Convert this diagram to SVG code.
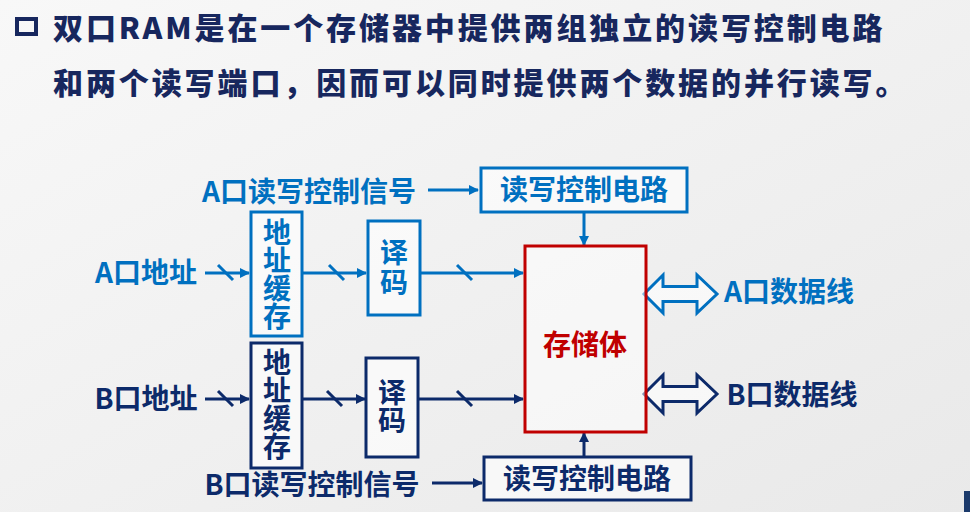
<svg xmlns="http://www.w3.org/2000/svg" width="970" height="512" viewBox="0 0 970 512">
<defs>
<linearGradient id="bg" x1="0" y1="0" x2="1" y2="1">
<stop offset="0" stop-color="#f8f8f8"/>
<stop offset="1" stop-color="#e9e9e9"/>
</linearGradient>
<marker id="ha" markerWidth="10" markerHeight="10" refX="9" refY="5" orient="auto" markerUnits="userSpaceOnUse">
<path d="M0,0 L10,5 L0,10 Z" fill="#0070C0"/>
</marker>
<marker id="hb" markerWidth="10" markerHeight="10" refX="9" refY="5" orient="auto" markerUnits="userSpaceOnUse">
<path d="M0,0 L10,5 L0,10 Z" fill="#0C2A6A"/>
</marker>
<style>
text{font-family:"Noto Sans CJK SC","Liberation Sans",sans-serif;font-weight:bold}
.t{font-size:30px;fill:#17275E;letter-spacing:2.9px;font-weight:900}
.l{font-size:28px;text-anchor:middle}
.v{writing-mode:vertical-rl}
.a{fill:#0070C0}
.b{fill:#0C2A6A}
.r{fill:#C00000}
.ba{fill:#ffffff;fill-opacity:0.6;stroke:#0070C0;stroke-width:3}
.bb{fill:#ffffff;fill-opacity:0.6;stroke:#0C2A6A;stroke-width:3}
.la{stroke:#0070C0;stroke-width:3;fill:none}
.lb{stroke:#0C2A6A;stroke-width:3;fill:none}
</style>
</defs>
<rect width="970" height="512" fill="url(#bg)"/>
<rect x="964" y="491" width="6" height="21" fill="#1B3A6B"/>

<g id="title">
<rect x="17" y="19" width="19" height="15" fill="none" stroke="#17275E" stroke-width="4"/>
<text class="t" x="53" y="39">双口RAM是在一个存储器中提供两组独立的读写控制电路</text>
<text class="t" x="53" y="94">和两个读写端口，因而可以同时提供两个数据的并行读写。</text>
</g>

<g id="connectors">
<line class="la" x1="428" y1="190" x2="478" y2="190" marker-end="url(#ha)"/>
<line class="la" x1="584" y1="212" x2="584" y2="245" marker-end="url(#ha)"/>
<line class="la" x1="205" y1="273" x2="249" y2="273" marker-end="url(#ha)"/>
<line class="la" x1="218" y1="265" x2="233" y2="280"/>
<line class="la" x1="302" y1="273" x2="366" y2="273" marker-end="url(#ha)"/>
<line class="la" x1="329" y1="265" x2="344" y2="280"/>
<line class="la" x1="420" y1="273" x2="523" y2="273" marker-end="url(#ha)"/>
<line class="la" x1="457" y1="265" x2="472" y2="280"/>
<path class="ba" d="M644,294 L663,275 L663,286.5 L697,286.5 L697,275 L717,294 L697,313 L697,301.5 L663,301.5 L663,313 Z"/>

<line class="lb" x1="205" y1="399" x2="249" y2="399" marker-end="url(#hb)"/>
<line class="lb" x1="218" y1="391" x2="233" y2="406"/>
<line class="lb" x1="302" y1="399" x2="365" y2="399" marker-end="url(#hb)"/>
<line class="lb" x1="327" y1="391" x2="342" y2="406"/>
<line class="lb" x1="418" y1="399" x2="523" y2="399" marker-end="url(#hb)"/>
<line class="lb" x1="457" y1="391" x2="472" y2="406"/>
<line class="lb" x1="432" y1="483" x2="482" y2="483" marker-end="url(#hb)"/>
<line class="lb" x1="584" y1="456" x2="584" y2="433" marker-end="url(#hb)"/>
<path class="bb" d="M644,394 L663,375 L663,386.5 L697,386.5 L697,375 L717,394 L697,413 L697,401.5 L663,401.5 L663,413 Z"/>
</g>

<g id="a-ctrl-signal"><text class="l a" x="309" y="202">A口读写控制信号</text></g>
<g id="a-ctrl"><rect class="ba" x="481" y="168" width="206" height="44"/><text class="l a" x="584" y="200">读写控制电路</text></g>
<g id="a-addr-label"><text class="l a" x="146" y="283">A口地址</text></g>
<g id="a-buf"><rect class="ba" x="251" y="212" width="51" height="124"/>
<text class="l a v" x="277" y="274">地址缓存</text></g>
<g id="a-dec"><rect class="ba" x="368" y="221" width="52" height="94"/>
<text class="l a v" x="394" y="268" letter-spacing="2">译码</text></g>
<g id="a-data"><text class="l a" x="789" y="302">A口数据线</text></g>

<g id="memory"><rect x="525" y="246" width="121" height="186" fill="#ffffff" fill-opacity="0.5" stroke="#C00000" stroke-width="3"/>
<text class="l r" x="585" y="355">存储体</text></g>

<g id="b-addr-label"><text class="l b" x="146" y="409">B口地址</text></g>
<g id="b-buf"><rect class="bb" x="251" y="343" width="51" height="125"/>
<text class="l b v" x="277" y="404">地址缓存</text></g>
<g id="b-dec"><rect class="bb" x="366" y="358" width="52" height="99"/>
<text class="l b v" x="392" y="406">译码</text></g>
<g id="b-data"><text class="l b" x="792" y="405">B口数据线</text></g>
<g id="b-ctrl-signal"><text class="l b" x="312" y="495">B口读写控制信号</text></g>
<g id="b-ctrl"><rect class="bb" x="484" y="457" width="207" height="43"/><text class="l b" x="587" y="489">读写控制电路</text></g>
</svg>
